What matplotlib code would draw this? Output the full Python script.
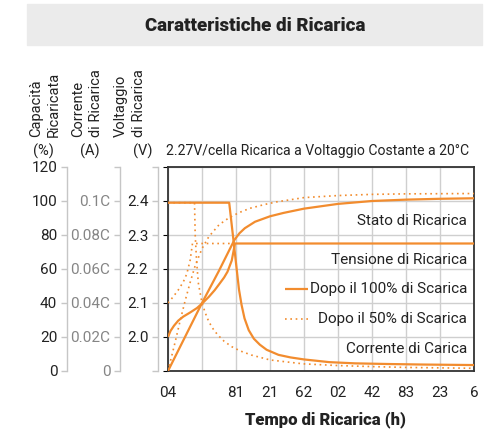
import matplotlib
matplotlib.use("Agg")
import matplotlib.pyplot as plt
from matplotlib.lines import Line2D
from matplotlib.patches import Rectangle

plt.rcParams['font.family'] = ['Roboto', 'DejaVu Sans']

ORANGE = '#f28c2e'
TEXT = '#222222'
AXIS_GREY = '#c6c6c6'

# Time axis (hours), grid every 4 h
hour_ticks = [0, 4, 8, 12, 16, 20, 24, 28, 32, 36]
hour_labels = ['04', '', '81', '21', '62', '02', '42', '83', '23', '6']

# Left scales
cap_ticks = [0, 20, 40, 60, 80, 100, 120]
cap_labels = ['0', '20', '40', '60', '80', '100', '120']
cur_ticks = [0, 0.02, 0.04, 0.06, 0.08, 0.10, 0.12]
cur_labels = ['0', '0.02C', '0.04C', '0.06C', '0.08C', '0.1C', '']
volt_ticks = [1.9, 2.0, 2.1, 2.2, 2.3, 2.4, 2.5]
volt_labels = ['', '2.0', '2.1', '2.2', '2.3', '2.4', '']

# After 100% discharge
cap100_h = [0, 4, 6, 7.8, 8.4, 9.04, 10.24, 12, 13.6, 16, 20, 24, 28, 32, 36]
cap100 = [0, 40, 59, 77, 81, 84, 87.8, 91, 93, 95.5, 98.3, 100, 100.8, 101.3, 101.6]
volt100_h = [0, 0.3, 0.7, 1.2, 1.8, 2.6, 3.4, 4.08, 4.8, 5.5, 6.1, 6.6, 7.0, 7.5, 7.88, 36]
volt100 = [2.0, 2.018, 2.033, 2.048, 2.06, 2.072, 2.085, 2.10, 2.118, 2.138, 2.158,
           2.175, 2.192, 2.225, 2.275, 2.275]
cur100_h = [0, 7.2, 7.45, 7.7, 7.9, 8.1, 8.35, 8.65, 9.0, 9.5, 10.1, 10.8, 11.6, 13.0,
            14.4, 16.0, 19.0, 22.0, 26.0, 30.0, 36.0]
cur100 = [0.099, 0.099, 0.088, 0.077, 0.068, 0.059, 0.048, 0.039, 0.031, 0.024, 0.019,
          0.0155, 0.0125, 0.0095, 0.008, 0.0068, 0.0052, 0.0045, 0.0041, 0.0038, 0.0035]

# After 50% discharge
cap50_h = [0, 0.84, 1.4, 2.0, 2.6, 3.2, 3.6, 4.0, 4.8, 6.0, 7.08, 8.28, 9.64, 11.4, 12.8, 16, 20, 24, 28, 36]
cap50 = [0, 17, 29, 41, 52, 62, 67, 72, 79, 86, 89.8, 93, 95.7, 98, 99.5, 102, 103.2, 103.9, 104.2, 104.4]
volt50_h = [0, 0.6, 1.2, 1.8, 2.2, 2.6, 2.88, 7.88]
volt50 = [2.10, 2.118, 2.138, 2.162, 2.185, 2.225, 2.275, 2.275]
cur50_h = [0, 3.12, 3.2, 3.36, 3.56, 4.0, 4.4, 4.8, 5.4, 5.9, 6.6, 7.5, 8.5, 9.8, 12.0,
           15.9, 20.0, 24.0, 28.0, 36.0]
cur50 = [0.099, 0.099, 0.080, 0.065, 0.052, 0.040, 0.034, 0.029, 0.024, 0.021, 0.0175,
         0.0143, 0.0118, 0.0094, 0.0065, 0.0042, 0.0032, 0.0026, 0.0021, 0.0016]

W, H = 493, 438
fig = plt.figure(figsize=(W / 100, H / 100), dpi=100)

# Header band with title
fig.patches.append(Rectangle((27 / W, 1 - 45 / H), 455 / W, 41 / H,
                             transform=fig.transFigure, color='#ebebeb', zorder=0))
fig.text(255 / W, 1 - 26 / H, 'Caratteristiche di Ricarica', ha='center', va='center',
         fontsize=13.5, fontweight='heavy', color=TEXT)

ax = fig.add_axes([168 / W, 67 / H, 306 / W, 204 / H])
ax.set_xlim(0, 36)
ax.set_ylim(0, 120)
ax.set_xticks(hour_ticks)
ax.set_xticklabels(hour_labels)
ax.set_yticks(cap_ticks)
ax.tick_params(axis='y', left=False, labelleft=False)
ax.tick_params(axis='x', length=0, pad=11, labelsize=11, labelcolor=TEXT)
ax.grid(color='#cfcfcf', lw=1)
ax.set_axisbelow(True)
for s in ax.spines.values():
    s.set_color('#333333')
    s.set_linewidth(1.3)


def side_axis(ylim, ticks, labels, pos, label_color):
    t = ax.twinx()
    t.set_ylim(*ylim)
    for name in ['top', 'right', 'bottom']:
        t.spines[name].set_visible(False)
    t.spines['left'].set_visible(True)
    t.spines['left'].set_position(('axes', pos))
    t.spines['left'].set_color(AXIS_GREY)
    t.spines['left'].set_linewidth(1)
    t.yaxis.set_ticks_position('left')
    t.set_yticks(ticks)
    t.set_yticklabels(labels)
    t.tick_params(axis='y', direction='out', length=4, width=1, color=AXIS_GREY,
                  pad=3, labelsize=11, labelcolor=label_color)
    return t


ax_cap = side_axis((0, 120), cap_ticks, cap_labels, (67 - 168) / 306, TEXT)
ax_cur = side_axis((0, 0.12), cur_ticks, cur_labels, (120 - 168) / 306, '#858585')
ax_volt = side_axis((1.9, 2.5), volt_ticks, volt_labels, (158 - 168) / 306, TEXT)

solid = dict(color=ORANGE, lw=1.6, solid_capstyle='butt', solid_joinstyle='round')
dotted = dict(color=ORANGE, lw=1.2, linestyle=(0, (1, 2.2)))

ax_cap.plot(cap100_h, cap100, **solid)
ax_cap.plot(cap50_h, cap50, **dotted)
ax_volt.plot(volt100_h, volt100, **solid)
ax_volt.plot(volt50_h, volt50, **dotted)
ax_cur.plot(cur100_h, cur100, **solid)
ax_cur.plot(cur50_h, cur50, **dotted)

# Curve names and line-style key
lab = dict(ha='right', va='center', fontsize=11, color=TEXT)
ax.text(35.2, 88, 'Stato di Ricarica', **lab)
ax.text(35.2, 65.3, 'Tensione di Ricarica', **lab)
ax.text(35.2, 48.2, 'Dopo il 100% di Scarica', **lab)
ax.text(35.2, 30.6, 'Dopo il 50% di Scarica', **lab)
ax.text(35.2, 12.9, 'Corrente di Carica', **lab)
ax.add_line(Line2D([0.382, 0.458], [0.402, 0.402], transform=ax.transAxes, **solid))
ax.add_line(Line2D([0.382, 0.458], [0.255, 0.255], transform=ax.transAxes, **dotted))

# Scale names above the left axes
rot = dict(rotation=90, ha='center', va='bottom', multialignment='left',
           linespacing=1.35, fontsize=10.5, color=TEXT)
fig.text(45 / W, 1 - 137 / H, 'Capacità\nRicaricata', **rot)
fig.text(87 / W, 1 - 137 / H, 'Corrente\ndi Ricarica', **rot)
fig.text(130 / W, 1 - 137 / H, 'Voltaggio\ndi Ricarica', **rot)
unit = dict(ha='center', va='center', fontsize=10.5, color=TEXT)
fig.text(43 / W, 1 - 151 / H, '(%)', **unit)
fig.text(90 / W, 1 - 151 / H, '(A)', **unit)
fig.text(143 / W, 1 - 151 / H, '(V)', **unit)
fig.text(166 / W, 1 - 151 / H, '2.27V/cella Ricarica a Voltaggio Costante a 20°C',
         ha='left', va='center', fontsize=10.1, color=TEXT)

fig.text(325 / W, 1 - 420 / H, 'Tempo di Ricarica (h)', ha='center', va='center',
         fontsize=12, fontweight='heavy', color=TEXT)

fig.savefig('out.png', dpi=100)
